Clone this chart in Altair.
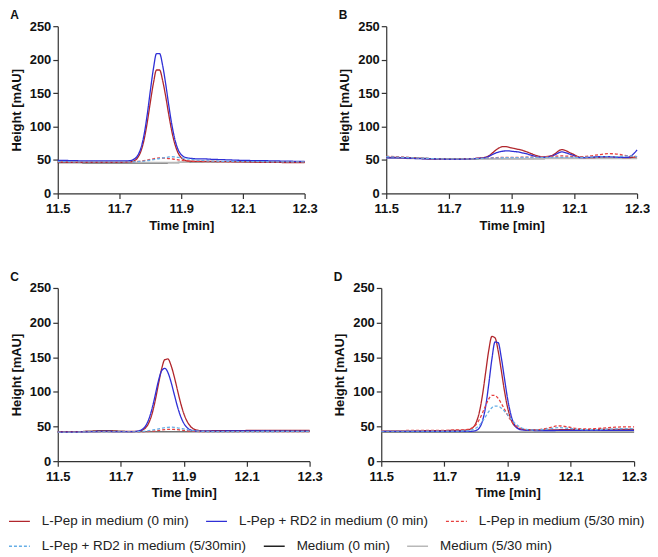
import altair as alt
import pandas as pd

TIME = [11.5, 11.55, 11.6, 11.65, 11.7, 11.73, 11.75, 11.76, 11.77, 11.78, 11.79, 11.80, 11.81,
        11.82, 11.83, 11.84, 11.85, 11.86, 11.87, 11.88, 11.89, 11.90, 11.91, 11.92, 11.94, 11.96,
        11.98, 12.0, 12.03, 12.06, 12.09, 12.12, 12.15, 12.18, 12.21, 12.24, 12.27, 12.3]

SERIES = ["L-Pep in medium (0 min)", "L-Pep + RD2 in medium (0 min)", "L-Pep in medium (5/30 min)",
          "L-Pep + RD2 in medium (5/30min)", "Medium (0 min)", "Medium (5/30 min)"]
COLORS = ["#b1262c", "#2f2fd6", "#e6403f", "#66aee6", "#222222", "#b8b8b8"]
DASHES = [[1, 0], [1, 0], [3, 2], [3, 2], [1, 0], [1, 0]]
DRAW_ORDER = [4, 5, 0, 1, 2, 3]

# ---- Panel A ----
A_RED = [47, 46.5, 46.5, 46.5, 46.5, 46.8, 49.4, 54.1, 63.8, 80.9, 106.1, 136.3, 164.8, 184.5, 184.5, 168.5, 144.5, 117, 92, 73,
         60.5, 53.5, 50, 48.5, 48, 48, 48, 48, 47.5, 47.5, 47, 47, 46.5, 46.5, 46.5, 46, 46, 46]
A_BLUE = [49.5, 49, 48.5, 48.5, 48.5, 48.8, 52, 57.5, 68.5, 88.5, 118, 153.5, 186.5, 209, 209, 191, 163, 131, 102, 80,
          65.5, 58, 54.5, 53, 52, 51.5, 51.5, 51, 50.5, 50, 49.5, 49.2, 49, 48.8, 48.5, 48.3, 48, 48]
A_RED_DASH = [47, 47, 47, 47, 47, 47.2, 47.5, 47.8, 48.3, 49, 49.8, 50.8, 51.8, 52.5, 53, 52.9, 52.6, 52.1, 51.5, 50.8,
              50.1, 49.5, 49, 48.6, 48.1, 47.8, 47.6, 47.5, 47.5, 47.3, 47.2, 47, 47, 47, 47, 47, 47, 47]
A_BLUE_DASH = [47.5, 47.3, 47, 47, 47, 47.1, 47.3, 47.5, 47.8, 48.3, 48.9, 49.6, 50.4, 51.3, 52.2, 53, 53.7, 54.5, 54.8, 54.4,
               53.8, 53.1, 52.5, 51.8, 50.5, 49.5, 48.8, 48.3, 48, 47.8, 47.6, 47.5, 47.4, 47.3, 47.2, 47.1, 47, 47]
A_BLACK = [46, 46, 45.8, 45.8, 45.7, 45.7, 45.6, 45.6, 45.6, 45.6, 45.6, 45.6, 45.6, 45.6, 45.6, 45.7, 45.8, 45.9, 46, 46.1,
           46.2, 46.3, 46.4, 46.5, 46.7, 46.9, 47.1, 47.3, 47.4, 47.5, 47.4, 47.3, 47.2, 47.1, 47, 47, 46.9, 46.8]
A_GRAY = [47, 47, 46.8, 46.6, 46.5, 46.5, 46.4, 46.4, 46.4, 46.4, 46.4, 46.4, 46.4, 46.4, 46.4, 46.4, 46.4, 46.4, 46.5, 46.5,
          46.5, 46.5, 46.6, 46.6, 46.7, 46.8, 46.9, 47, 47, 47, 47, 47, 47, 47, 47, 47, 47, 47]

# ---- Panel B ----
B_RED = [54, 53.5, 52.5, 51.5, 51, 51, 51.5, 51.5, 52, 52, 52.5, 53, 53.5, 54.5, 57, 61, 65, 68, 69.8, 70,
         69.2, 68, 67, 66, 63.5, 60, 56.5, 54.5, 57, 65.5, 60, 54, 53.5, 54, 54.5, 54, 53.5, 55]
B_BLUE = [53, 53, 52, 51.5, 51, 51, 51.2, 51.5, 51.8, 52, 52.3, 52.6, 53, 54, 56, 58.5, 60.5, 62, 63, 63.5,
          63.5, 63, 62.5, 62, 60, 57.5, 55, 54, 56, 62, 58, 53.5, 54, 55, 55, 54, 54, 65]
B_RED_DASH = [55.5, 54.5, 53, 52, 51.5, 51.5, 52, 52, 52, 52.2, 52.3, 52.5, 52.7, 52.9, 53.1, 53.3, 53.5, 53.7, 53.8, 53.9,
              54, 54, 54, 54, 54.2, 54.4, 54.7, 55, 55.5, 56, 55.5, 55, 56, 58, 59.5, 58.5, 56, 55]
B_BLUE_DASH = [55, 54, 53, 52, 51.5, 51.5, 51.5, 51.5, 51.7, 51.8, 52, 52.2, 52.4, 52.6, 52.8, 53, 53.1, 53.2, 53.3, 53.4,
               53.5, 53.5, 53.5, 53.6, 53.7, 53.8, 53.9, 54, 54, 54, 54, 54, 54.2, 54.4, 54.6, 55, 56, 55]
B_BLACK = [53, 52.8, 52.5, 52, 51.8, 51.8, 51.8, 51.8, 51.8, 51.8, 51.8, 51.9, 52, 52, 52, 52, 52, 52, 52, 52,
           52, 52, 52, 52, 52, 52, 52.1, 52.2, 52.3, 52.4, 52.5, 52.5, 52.5, 52.5, 52.5, 52.5, 52.5, 52.5]
B_GRAY = [52.5, 52.3, 52, 51.8, 51.6, 51.6, 51.6, 51.6, 51.6, 51.6, 51.6, 51.7, 51.8, 51.8, 51.8, 51.8, 51.8, 51.8, 51.8, 51.8,
          51.8, 51.8, 51.8, 51.8, 51.8, 51.8, 51.9, 52, 52.1, 52.2, 52.2, 52.2, 52.2, 52.2, 52.2, 52.2, 52.2, 52.2]

# ---- Panel C ----
C_RED = [42.5, 42.5, 43, 43.5, 43, 42.8, 43, 43.5, 45, 48.6, 56, 69, 88.4, 111.5, 133.2, 146.5, 147.5, 138, 122, 103,
         84.5, 69.2, 58.2, 51.1, 45, 43.8, 43.8, 44, 44, 44, 44.2, 44.3, 44.4, 44.5, 44.5, 44.5, 44.5, 44.5]
C_BLUE = [42, 42, 42.5, 43, 42.5, 42.5, 43, 44, 46.4, 51.6, 61.5, 76.7, 96.2, 116.2, 130.5, 134, 127.9, 114, 96.5, 79.2,
          65, 55, 48.7, 45.5, 43.5, 43.2, 43.3, 43.4, 43.5, 43.6, 43.6, 43.6, 43.6, 43.5, 43.5, 43.5, 43.5, 43.5]
C_RED_DASH = [42, 42, 42.3, 42.5, 42.3, 42.2, 42.2, 42.3, 42.4, 42.6, 42.9, 43.3, 43.8, 44.4, 45, 45.5, 45.9, 46, 45.8, 45.4,
              44.9, 44.4, 43.9, 43.5, 43, 42.7, 42.6, 42.5, 42.5, 42.5, 42.5, 42.6, 42.6, 42.7, 42.7, 42.8, 42.8, 42.8]
C_BLUE_DASH = [42, 42, 42.2, 42.4, 42.2, 42.2, 42.4, 42.6, 42.9, 43.4, 44, 44.8, 45.7, 46.6, 47.5, 48.3, 48.8, 49, 48.8, 48.2,
               47.4, 46.5, 45.6, 44.8, 43.7, 43, 42.7, 42.6, 42.6, 42.6, 42.7, 42.7, 42.8, 42.8, 42.9, 42.9, 43, 43]
C_BLACK = [42, 42.2, 43, 43.8, 43, 42.5, 42.3, 42.2, 42.2, 42.2, 42.2, 42.2, 42.2, 42.2, 42.2, 42.2, 42.2, 42.2, 42.2, 42.2,
           42.2, 42.2, 42.2, 42.2, 42.3, 42.4, 42.5, 42.6, 42.7, 42.8, 42.9, 43, 43, 43, 43, 43, 43, 43]
C_GRAY = [41.5, 41.5, 41.6, 41.7, 41.6, 41.5, 41.5, 41.5, 41.5, 41.5, 41.5, 41.5, 41.5, 41.5, 41.5, 41.5, 41.5, 41.5, 41.5, 41.5,
          41.5, 41.5, 41.5, 41.5, 41.5, 41.5, 41.6, 41.6, 41.7, 41.7, 41.8, 41.8, 41.8, 41.8, 41.8, 41.8, 41.8, 41.8]

# ---- Panel D ----
D_RED = [43.5, 43.5, 43.5, 44, 44, 44.5, 44.5, 44.7, 45, 46, 48.5, 55.5, 70, 94.5, 127, 159.5, 180, 178, 159, 130.5,
         101, 77, 61, 52, 46.5, 45.5, 45.3, 45.2, 45, 45.3, 45.5, 45.5, 45.5, 45.6, 45.8, 46, 46, 46]
D_BLUE = [43, 43, 43, 43, 43, 43, 43, 43, 43, 43, 43.3, 44.3, 47.8, 57.5, 78, 110.5, 147, 172, 171, 149,
          119, 89.5, 67.5, 54, 45.5, 44.5, 44.3, 44.2, 44.2, 44.3, 44.3, 44.3, 44.4, 44.5, 44.5, 44.5, 44.5, 44.5]
D_RED_DASH = [44, 44, 44.5, 44.5, 44.5, 45, 45, 45.2, 45.6, 46.5, 48.7, 52.9, 59.7, 69.2, 80, 89.6, 95, 94.8, 90.5, 83.3,
              74.8, 66.3, 59, 53.5, 47.5, 45.5, 45, 45.5, 48, 51, 49.5, 47, 46.5, 47, 48, 49, 49.5, 49.5]
D_BLUE_DASH = [43.5, 43.5, 43.5, 43.5, 43.5, 43.5, 43.5, 43.6, 43.8, 44.4, 45.5, 47.8, 51.6, 57.2, 64.2, 71.4, 77.2, 79.5, 79.3, 76.5,
               72.1, 66.7, 61.3, 56.2, 49, 45.8, 45, 45.3, 46.5, 48.5, 47.5, 46, 45.5, 45.5, 46, 46.5, 47, 47]
D_BLACK = [42, 42, 42, 42, 42, 42, 42, 42, 42, 42, 42, 42, 42, 42, 42, 42, 42, 42, 42, 42,
           42, 42, 42, 42, 42, 42, 42, 42, 42, 42, 42, 42, 42, 42, 42, 42, 42, 42]
D_GRAY = [42.4, 42.4, 42.4, 42.4, 42.4, 42.4, 42.4, 42.4, 42.4, 42.4, 42.4, 42.4, 42.4, 42.4, 42.4, 42.4, 42.4, 42.4, 42.4, 42.4,
          42.4, 42.4, 42.4, 42.4, 42.4, 42.4, 42.4, 42.4, 42.4, 42.4, 42.4, 42.4, 42.4, 42.4, 42.4, 42.4, 42.4, 42.4]

PANELS = [
    ("A", [A_RED, A_BLUE, A_RED_DASH, A_BLUE_DASH, A_BLACK, A_GRAY]),
    ("B", [B_RED, B_BLUE, B_RED_DASH, B_BLUE_DASH, B_BLACK, B_GRAY]),
    ("C", [C_RED, C_BLUE, C_RED_DASH, C_BLUE_DASH, C_BLACK, C_GRAY]),
    ("D", [D_RED, D_BLUE, D_RED_DASH, D_BLUE_DASH, D_BLACK, D_GRAY]),
]

FONT = "Liberation Sans"


def panel_frame(series_values):
    rows = []
    for idx in DRAW_ORDER:
        vals = series_values[idx]
        if len(vals) != len(TIME):
            raise ValueError(f"length mismatch for {SERIES[idx]}: {len(vals)}")
        for t, v in zip(TIME, vals):
            rows.append({"series": SERIES[idx], "t": t, "v": v})
    return pd.DataFrame(rows)


def panel(label, series_values, w, h):
    df = panel_frame(series_values)
    return alt.Chart(
        df,
        title=alt.TitleParams(label, anchor="start", frame="bounds", fontSize=12,
                              fontWeight="bold", font=FONT, offset=-2, color="#111"),
    ).mark_line(strokeWidth=1.3, interpolate="monotone").encode(
        x=alt.X("t:Q", scale=alt.Scale(domain=[11.5, 12.3], nice=False, zero=False),
                axis=alt.Axis(values=[11.5, 11.7, 11.9, 12.1, 12.3], format=".1f", title="Time [min]",
                              labelPadding=4, titlePadding=4)),
        y=alt.Y("v:Q", scale=alt.Scale(domain=[0, 250], nice=False),
                axis=alt.Axis(values=[0, 50, 100, 150, 200, 250], title="Height [mAU]")),
        color=alt.Color("series:N", scale=alt.Scale(domain=SERIES, range=COLORS), legend=None),
        strokeDash=alt.StrokeDash("series:N", scale=alt.Scale(domain=SERIES, range=DASHES), legend=None),
    ).properties(width=w, height=h)


def legend_chart(indices):
    names = [SERIES[i] for i in indices]
    df = pd.DataFrame({"series": names, "t": [0 for _ in names], "v": [0 for _ in names]})
    leg = alt.Legend(orient="none", legendX=-50, legendY=0, direction="horizontal", columns=3, title=None,
                     symbolType="stroke", symbolSize=441, symbolStrokeWidth=1.5,
                     labelFont=FONT, labelFontSize=13.5, labelColor="#222", labelOffset=11,
                     columnPadding=14, padding=0, symbolOpacity=1, labelLimit=400)
    return alt.Chart(df).mark_line().encode(
        x=alt.X("t:Q", axis=None),
        y=alt.Y("v:Q", axis=None),
        color=alt.Color("series:N", scale=alt.Scale(domain=names, range=[COLORS[i] for i in indices]), legend=leg),
        strokeDash=alt.StrokeDash("series:N", scale=alt.Scale(domain=names, range=[DASHES[i] for i in indices]), legend=leg),
    ).properties(width=1, height=1)


pA = panel(PANELS[0][0], PANELS[0][1], 248, 168)
pB = panel(PANELS[1][0], PANELS[1][1], 252, 168)
pC = panel(PANELS[2][0], PANELS[2][1], 253, 174)
pD = panel(PANELS[3][0], PANELS[3][1], 254, 174)

row1 = alt.hconcat(pA, pB, spacing=21)
row2 = alt.hconcat(pC, pD, spacing=11)
plots = alt.vconcat(row1, row2, spacing=39)

legends = alt.vconcat(legend_chart([0, 1, 2]), legend_chart([3, 4, 5]), spacing=3).resolve_scale(
    color="independent", strokeDash="independent")

chart = alt.vconcat(plots, legends, spacing=6).resolve_scale(
    color="independent", strokeDash="independent"
).properties(
    padding={"left": 0, "top": 0, "right": 0, "bottom": 0}
).configure_view(stroke=None).configure_axis(
    labelFont=FONT, titleFont=FONT, labelFontSize=13, titleFontSize=13,
    labelFontWeight="bold", titleFontWeight="bold", labelColor="#111", titleColor="#111",
    domainColor="#333", tickColor="#333", domainWidth=1.2, tickWidth=1.2, tickSize=5,
    grid=False, labelPadding=2, titlePadding=6, labelFlush=False,
)

chart.save("out.html", embed_options={"renderer": "svg", "actions": False})
